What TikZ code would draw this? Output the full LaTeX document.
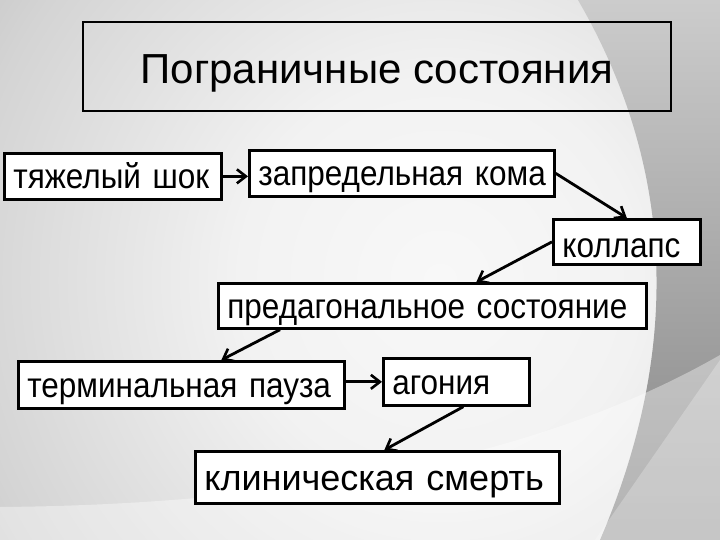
\documentclass[tikz,border=0pt]{standalone}
\usepackage{fontspec}
\setmainfont{Liberation Sans}
\newfontfamily\boxfont[FakeStretch=0.9]{Liberation Sans}
\usetikzlibrary{arrows.meta,calc}
\definecolor{bgA}{HTML}{F8F8F8}
\definecolor{bgA2}{HTML}{F2F2F2}
\definecolor{bgB}{HTML}{D4D4D4}
\definecolor{bgC}{HTML}{A4A4A4}
\definecolor{bgD}{HTML}{8A8A8A}
\definecolor{bgE}{HTML}{828282}
\pgfdeclareradialshading{bgshade}{\pgfpoint{0bp}{0bp}}{color(0bp)=(bgA); color(5bp)=(bgA2); color(12bp)=(bgB); color(20bp)=(bgC); color(26bp)=(bgD); color(50bp)=(bgE)}
\tikzset{
  box/.style={draw=black, line width=2.7pt, fill=white, anchor=north west, inner xsep=9pt, inner ysep=0pt,
    align=left, text height=31pt, text depth=6pt, font=\boxfont\fontsize{35}{40}\selectfont},
  titlebox/.style={draw=black, line width=2pt, anchor=north west, inner sep=0pt,
    text height=38pt, text depth=4pt, font=\fontsize{42}{48}\selectfont},
  arr/.style={draw=black, line width=2.8pt, -{Straight Barb[length=9pt,width=14pt,line width=2.6pt]}}
}
\begin{document}
\begin{tikzpicture}[x=1pt,y=-1pt]
\useasboundingbox (0,0) rectangle (720,540);
% background
\begin{scope}
\clip (0,0) rectangle (720,540);
\shade[shading=bgshade] (440,280) circle (1000);
\shade[top color=black!20, bottom color=black!48] (578,0) .. controls (665,150) and (690,330) .. (600,540) -- (720,540) -- (720,0) -- cycle;
\fill[white, opacity=0.38] (0,540) -- (0,507) .. controls (250,505) and (520,470) .. (720,355) -- (720,540) -- cycle;
\fill[white, opacity=0.25] (720,360) -- (595,540) -- (720,540) -- cycle;
\end{scope}
% title
\node[titlebox, minimum width=588pt, minimum height=89pt] (title) at (82,21) {Пограничные состояния};
% boxes
\node[box, minimum width=217pt, minimum height=46pt, text width=199pt] (shock) at (3,152) {\mbox{тяжелый шок}};
\node[box, minimum width=305pt, minimum height=46pt, text width=287pt] (koma) at (248,149) {\mbox{запредельная кома}};
\node[box, minimum width=147pt, minimum height=45pt, text width=129pt, text height=34pt, text depth=3pt] (kollaps) at (552,218) {\mbox{коллапс}};
\node[box, minimum width=428pt, minimum height=45pt, text width=410pt] (predag) at (217,282) {\mbox{предагональное состояние}};
\node[box, minimum width=326pt, minimum height=47pt, text width=308pt] (pauza) at (17,360) {\mbox{терминальная пауза}};
\node[box, minimum width=146pt, minimum height=47pt, text width=128pt] (agonia) at (382,357) {\mbox{агония}};
\node[box, minimum width=364pt, minimum height=52pt, text width=346pt, font=\fontsize{36}{42}\selectfont, text height=33pt, text depth=6pt] (klin) at (194,450) {\mbox{клиническая смерть}};
% arrows
\draw[arr] (shock.east) -- (shock.east -| koma.west);
\draw[arr] (koma.east) -- (kollaps.north);
\draw[arr] (kollaps.west) -- ([xshift=44pt]predag.north);
\draw[arr] ([xshift=63pt]predag.south west) -- ([xshift=40pt]pauza.north);
\draw[arr] ([yshift=3pt]pauza.east) -- ([yshift=3pt]pauza.east -| agonia.west);
\draw[arr] ([xshift=7pt]agonia.south) -- ([xshift=7pt]klin.north);
\end{tikzpicture}
\end{document}
